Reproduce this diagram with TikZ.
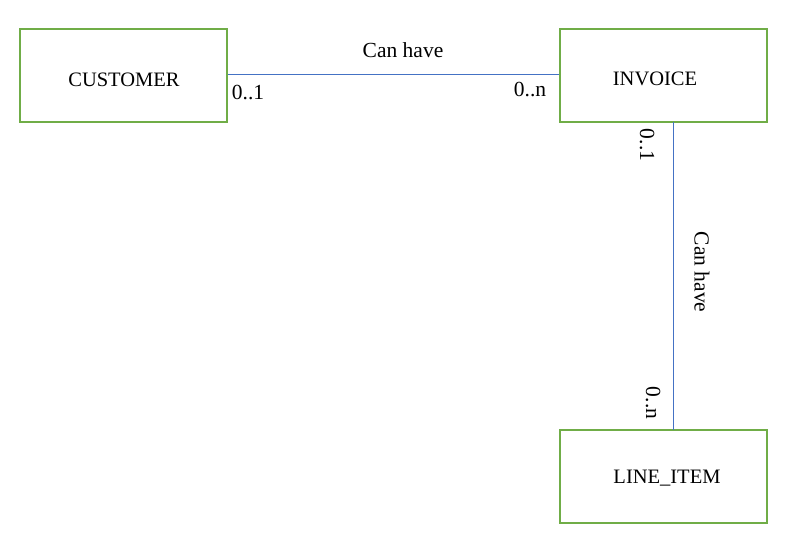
\documentclass[tikz,border=0pt]{standalone}
\usepackage{fontspec}
\setmainfont{Liberation Serif}
\usepackage{tikz}
\definecolor{boxgreen}{RGB}{112,173,71}
\definecolor{linkblue}{RGB}{68,114,196}
\tikzset{every picture/.style={line width=0.75pt}}
\tikzset{
  entity/.style={draw=boxgreen, line width=2pt, minimum width=207, minimum height=93, inner sep=0pt},
  enttext/.style={inner sep=0pt, font=\fontsize{20.5}{24}\selectfont},
  link/.style={draw=linkblue, line width=0.9pt},
  mult/.style={inner sep=0pt, font=\fontsize{21.5}{25}\selectfont}
}

\begin{document}
\begin{tikzpicture}[x=1pt,y=1pt,yscale=-1,xscale=1]
    \useasboundingbox (0,0) rectangle (798,547);
    \node[entity] (customer) at (123.5,75.5) {};
    \node[entity] (invoice) at (663,75.5) {};
    \node[entity] (lineitem) at (663.5,476) {};
    \node[enttext] (customertxt) at (124,80) {CUSTOMER};
    \node[enttext] (invoicetxt) at (655,78.5) {INVOICE};
    \node[enttext] (lineitemtxt) at (667,478.5) {LINE\_ITEM};
    % connectors
    \coordinate (invtop) at (673,122);
    \coordinate (itembot) at (673,430);
    \draw[link] (customer.east |- 0,74) -- (invoice.west |- 0,74);
    \draw[link] (invtop) -- (itembot);
    % labels
    \node[mult] (havea) at (403,50) {Can have};
    \node[mult] (custmult) at (248,92) {0..1};
    \node[mult] (invmult) at (530,89) {0..n};
    \node[mult, rotate=-90] (invmultb) at (647,145) {0..1};
    \node[mult, rotate=-90] (haveb) at (702,272) {Can have};
    \node[mult, rotate=-90] (itemmult) at (653,403) {0..n};
\end{tikzpicture}
\end{document}
